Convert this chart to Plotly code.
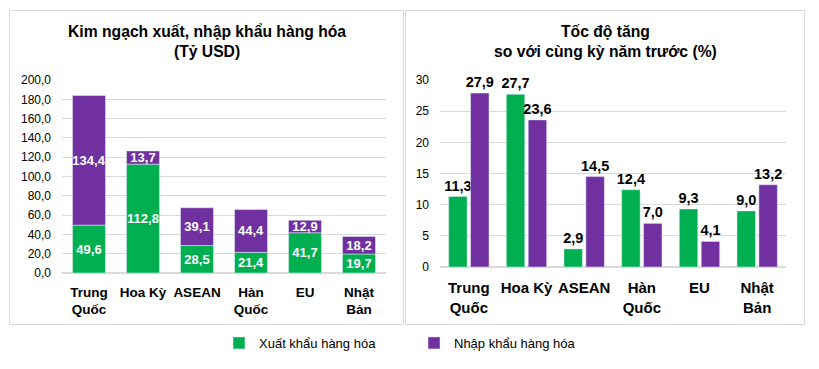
import plotly.graph_objects as go

categories = ["Trung<br>Quốc", "Hoa Kỳ", "ASEAN", "Hàn<br>Quốc", "EU", "Nhật<br>Bản"]
export_val = [49.6, 112.8, 28.5, 21.4, 41.7, 19.7]
import_val = [134.4, 13.7, 39.1, 44.4, 12.9, 18.2]
export_growth = [11.3, 27.7, 2.9, 12.4, 9.3, 9.0]
import_growth = [27.9, 23.6, 14.5, 7.0, 4.1, 13.2]

left_ticks = [0, 20, 40, 60, 80, 100, 120, 140, 160, 180, 200]
right_ticks = [0, 5, 10, 15, 20, 25, 30]

series_names = ["Xuất khẩu hàng hóa", "Nhập khẩu hàng hóa"]
GREEN = "#00B050"
PURPLE = "#7030A0"
FONT = "Liberation Sans, Arial, sans-serif"
W, H = 819, 369


def fmt(v):
    return f"{v:.1f}".replace(".", ",")


fig = go.Figure()

# Left: stacked bars
fig.add_trace(go.Bar(
    x=categories, y=export_val, base=[0] * len(export_val), name=series_names[0],
    marker_color=GREEN, width=0.61, offset=-0.305,
    text=[fmt(v) for v in export_val], textposition="inside", insidetextanchor="middle",
    textangle=0, constraintext="none",
    textfont=dict(color="white", size=13, family=FONT, weight="bold"),
    xaxis="x", yaxis="y", legendgroup="exp", showlegend=True,
))
fig.add_trace(go.Bar(
    x=categories, y=import_val, base=export_val, name=series_names[1],
    marker_color=PURPLE, width=0.61, offset=-0.305,
    text=[fmt(v) for v in import_val], textposition="inside", insidetextanchor="middle",
    textangle=0, constraintext="none",
    textfont=dict(color="white", size=13, family=FONT, weight="bold"),
    xaxis="x", yaxis="y", legendgroup="imp", showlegend=True,
))

# Right: grouped bars
fig.add_trace(go.Bar(
    x=categories, y=export_growth, name=series_names[0],
    marker_color=GREEN, width=0.32, offset=-0.35,
    text=[fmt(v) for v in export_growth], textposition="outside", textangle=0,
    constraintext="none", cliponaxis=False,
    textfont=dict(color="black", size=14.5, family=FONT, weight="bold"),
    xaxis="x2", yaxis="y2", legendgroup="exp", showlegend=False,
))
fig.add_trace(go.Bar(
    x=categories, y=import_growth, name=series_names[1],
    marker_color=PURPLE, width=0.32, offset=0.03,
    text=[fmt(v) for v in import_growth], textposition="outside", textangle=0,
    constraintext="none", cliponaxis=False,
    textfont=dict(color="black", size=14.5, family=FONT, weight="bold"),
    xaxis="x2", yaxis="y2", legendgroup="imp", showlegend=False,
))

GRID = "#d9d9d9"

fig.update_layout(
    width=W, height=H, autosize=False,
    margin=dict(l=0, r=0, t=0, b=0, pad=0, autoexpand=False),
    paper_bgcolor="white", plot_bgcolor="white",
    barmode="overlay",
    font=dict(family=FONT, color="black"),
    xaxis=dict(domain=[62 / W, 386 / W], anchor="y", showgrid=False, zeroline=False,
               showline=False, ticks="", tickfont=dict(size=13.5, weight="bold"),
               ticklabelstandoff=9, automargin=False),
    yaxis=dict(domain=[1 - 273 / H, 1 - 80 / H], anchor="x", range=[0, 200],
               tickvals=left_ticks, ticktext=[fmt(v) for v in left_ticks],
               showgrid=True, gridcolor=GRID, zeroline=True, zerolinecolor=GRID,
               showline=False, tickfont=dict(size=12), ticklabelstandoff=10, automargin=False),
    xaxis2=dict(domain=[440 / W, 786 / W], anchor="y2", showgrid=False, zeroline=False,
                showline=False, ticks="", tickfont=dict(size=15, weight="bold"),
                ticklabelstandoff=10, automargin=False),
    yaxis2=dict(domain=[1 - 267 / H, 1 - 80 / H], anchor="x2", range=[0, 30],
                tickvals=right_ticks, ticktext=[str(v) for v in right_ticks],
                showgrid=True, gridcolor=GRID, zeroline=True, zerolinecolor=GRID,
                showline=False, tickfont=dict(size=12), ticklabelstandoff=10, automargin=False),
    legend=dict(orientation="h", x=219 / W, xanchor="left", y=1 - 343 / H, yanchor="middle",
                font=dict(size=13), entrywidth=150, entrywidthmode="pixels",
                bgcolor="rgba(0,0,0,0)"),
    shapes=[
        dict(type="rect", xref="paper", yref="paper", x0=9.5 / W, x1=403.5 / W,
             y0=1 - 324.5 / H, y1=1 - 10.5 / H, line=dict(color=GRID, width=1)),
        dict(type="rect", xref="paper", yref="paper", x0=405.5 / W, x1=804.5 / W,
             y0=1 - 324.5 / H, y1=1 - 10.5 / H, line=dict(color=GRID, width=1)),
    ],
    annotations=[
        dict(text="<b>Kim ngạch xuất, nhập khẩu hàng hóa<br>(Tỷ USD)</b>", xref="paper", yref="paper",
             x=207 / W, y=1 - 41 / H, xanchor="center", yanchor="middle", showarrow=False,
             font=dict(size=15.7, family=FONT)),
        dict(text="<b>Tốc độ tăng<br>so với cùng kỳ năm trước (%)</b>", xref="paper", yref="paper",
             x=605 / W, y=1 - 41 / H, xanchor="center", yanchor="middle", showarrow=False,
             font=dict(size=15.7, family=FONT)),
    ],
)

fig.write_html(
    "out.html",
    config={"displayModeBar": False},
    post_script="document.body.style.margin='0';document.body.style.overflow='hidden';",
)
